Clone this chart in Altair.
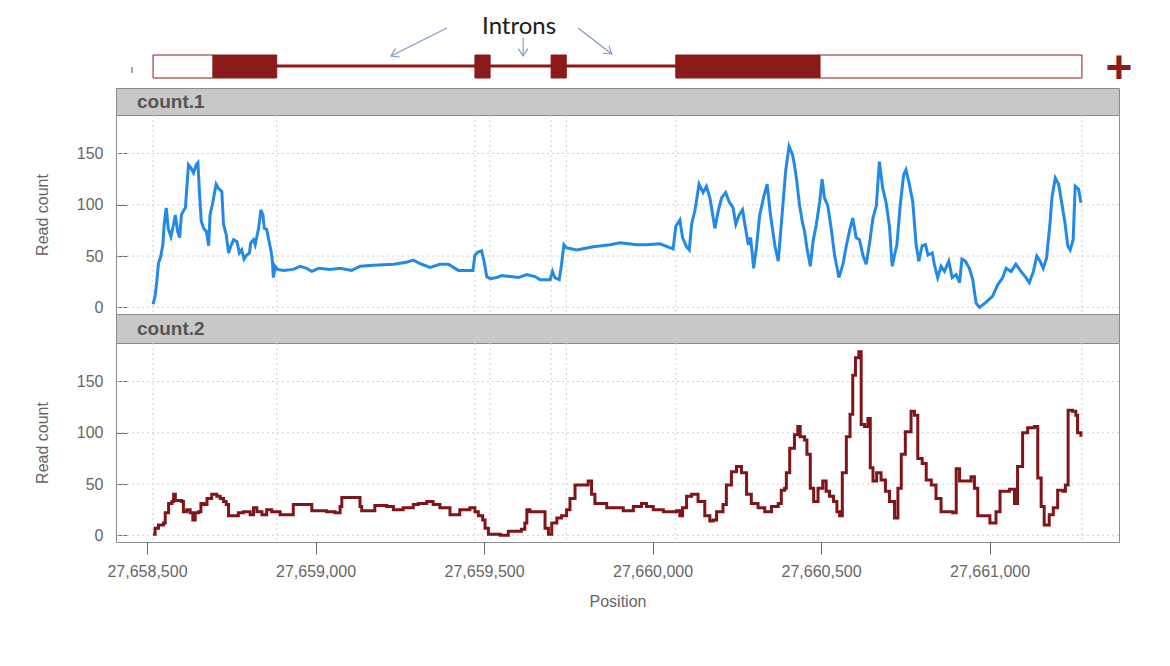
import math
import altair as alt
import pandas as pd


# gene model, bp
exon_start = [27658518, 27659473, 27659699, 27660069]
exon_end = [27658885, 27659518, 27659744, 27661274]
cds_start = 27658696
cds_end = 27660497

# read coverage, count.1
pos1 = [
    27658518, 27658524, 27658529, 27658534, 27658541, 27658547, 27658551, 27658557, 27658563, 27658571,
    27658579, 27658584, 27658591, 27658597, 27658602, 27658608, 27658614, 27658618, 27658623, 27658630,
    27658638, 27658646, 27658651, 27658656, 27658661, 27658668, 27658676, 27658683, 27658687, 27658695,
    27658705, 27658712, 27658722, 27658727, 27658735, 27658742, 27658749, 27658757, 27658767, 27658774,
    27658781, 27658788, 27658796, 27658804, 27658808, 27658816, 27658821, 27658831, 27658838, 27658844,
    27658848, 27658855, 27658863, 27658868, 27658872, 27658875, 27658880, 27658887, 27658905, 27658934,
    27658954, 27658974, 27658989, 27659009, 27659043, 27659073, 27659107, 27659132, 27659172, 27659231,
    27659270, 27659290, 27659315, 27659340, 27659369, 27659394, 27659424, 27659458,
    27659467, 27659473, 27659483, 27659493, 27659500, 27659508, 27659518, 27659538, 27659552, 27659577,
    27659602, 27659627, 27659651, 27659666, 27659696, 27659703, 27659710, 27659723, 27659730, 27659737,
    27659745, 27659775, 27659824, 27659874, 27659903, 27659953, 27659982, 27660022, 27660061, 27660069,
    27660081, 27660089, 27660101, 27660109, 27660116, 27660126, 27660138, 27660150, 27660160, 27660170,
    27660185, 27660195, 27660205, 27660217, 27660227, 27660239, 27660247, 27660257, 27660267, 27660274,
    27660284, 27660291, 27660300, 27660308, 27660318, 27660330, 27660340, 27660350, 27660363, 27660373,
    27660382, 27660395, 27660405,
    27660415, 27660421, 27660428, 27660436, 27660444, 27660451, 27660458, 27660468, 27660476, 27660486,
    27660496, 27660503, 27660510, 27660520, 27660530, 27660540, 27660553, 27660565, 27660575, 27660586,
    27660594, 27660604, 27660614, 27660624, 27660634, 27660644, 27660654, 27660664, 27660673, 27660683,
    27660693, 27660703, 27660711, 27660718, 27660725, 27660735, 27660745, 27660752, 27660762, 27660772,
    27660782, 27660790, 27660800, 27660810, 27660817, 27660830, 27660836, 27660846, 27660856, 27660866,
    27660879, 27660889, 27660901, 27660911, 27660918, 27660928, 27660940, 27660950, 27660960, 27660970,
    27660990, 27661009, 27661024, 27661039, 27661049, 27661064, 27661078, 27661093, 27661108, 27661118,
    27661130, 27661140, 27661150, 27661159, 27661169, 27661179, 27661185, 27661195, 27661205, 27661215,
    27661223, 27661232, 27661239, 27661248, 27661254, 27661264, 27661271,
]
cnt1 = [
    3, 11, 25, 43, 50, 61, 81, 97, 77, 69,
    81, 90, 74, 68, 90, 94, 97, 116, 139, 136,
    131, 139, 141, 110, 84, 77, 74, 60, 90, 102,
    120, 116, 113, 81, 71, 53, 60, 66, 64, 53,
    56, 47, 51, 53, 63, 66, 61, 77, 95, 90,
    77, 76, 63, 55, 45, 29, 40, 37, 36, 37,
    40, 38, 35, 38, 37, 38, 36, 40, 41, 42,
    44, 46, 42, 39, 42, 42, 36, 36,
    36, 51, 54, 55, 45, 30, 28, 29, 31, 30,
    29, 32, 30, 27, 27, 35, 29, 27, 42, 61,
    58, 56, 59, 61, 63, 61, 61, 62, 57, 79,
    85, 68, 59, 56, 81, 95, 120, 112, 118, 107,
    77, 94, 107, 112, 103, 97, 81, 90, 95, 81,
    61, 68, 38, 58, 90, 108, 120, 90, 60, 45,
    81, 133, 157,
    149, 139, 123, 100, 84, 74, 58, 40, 64, 81,
    103, 125, 107, 99, 77, 51, 29, 42, 60, 77,
    87, 68, 66, 51, 42, 63, 87, 99, 142, 116,
    102, 79, 40, 51, 61, 100, 129, 134, 120, 103,
    61, 45, 60, 61, 51, 53, 42, 29, 40, 35,
    45, 29, 32, 24, 47, 45, 38, 27, 4, 0,
    5, 11, 22, 29, 38, 35, 42, 35, 29, 24,
    35, 50, 45, 38, 48, 81, 107, 126, 120, 100,
    84, 60, 56, 66, 118, 115, 102,
]

# read coverage, count.2
pos2 = [
    27658518, 27658524, 27658534, 27658549, 27658554, 27658564, 27658574, 27658579, 27658584, 27658603,
    27658608, 27658618, 27658628, 27658636, 27658643, 27658653, 27658660, 27658668, 27658678, 27658692,
    27658707, 27658717, 27658727, 27658735, 27658742, 27658757, 27658771, 27658786, 27658806, 27658816,
    27658826, 27658841, 27658855, 27658870, 27658885, 27658895, 27658930, 27658934, 27658984, 27658989,
    27659033, 27659058, 27659073, 27659078, 27659117, 27659132, 27659137, 27659172, 27659176, 27659211,
    27659231, 27659260, 27659290, 27659305, 27659330, 27659349, 27659369, 27659399, 27659428, 27659458,
    27659473, 27659483, 27659496, 27659503, 27659513, 27659548, 27659572, 27659611, 27659621, 27659627,
    27659636, 27659676, 27659681, 27659691, 27659701, 27659716, 27659730, 27659745, 27659755, 27659770,
    27659795, 27659809, 27659819, 27659829, 27659864, 27659913, 27659943, 27659967, 27659982, 27660002,
    27660032, 27660071, 27660081, 27660089, 27660101, 27660116, 27660135, 27660155, 27660170, 27660180,
    27660190, 27660209, 27660219, 27660234, 27660249, 27660264, 27660279, 27660293, 27660313, 27660333,
    27660353, 27660373, 27660382, 27660392,
    27660397, 27660407, 27660421, 27660431, 27660438, 27660451, 27660458, 27660468, 27660478, 27660491,
    27660505, 27660515, 27660525, 27660537, 27660547, 27660555, 27660563, 27660575, 27660586, 27660594,
    27660602, 27660612, 27660619, 27660629, 27660639, 27660646, 27660654, 27660665, 27660678, 27660691,
    27660703, 27660718, 27660728, 27660738, 27660750, 27660767, 27660777, 27660787, 27660800, 27660812,
    27660827, 27660841, 27660856, 27660876, 27660891, 27660901, 27660911, 27660935, 27660945, 27660955,
    27660965, 27660990, 27661001, 27661019, 27661031, 27661059, 27661074, 27661083, 27661098, 27661113,
    27661133, 27661143, 27661153, 27661162, 27661177, 27661189, 27661202, 27661217, 27661225, 27661233,
    27661246, 27661256, 27661261, 27661271,
]
cnt2 = [
    1, 7, 10, 12, 22, 31, 33, 40, 34, 33,
    23, 25, 22, 15, 22, 23, 31, 30, 36, 40,
    38, 36, 33, 30, 19, 19, 22, 23, 20, 27,
    23, 20, 25, 23, 23, 20, 20, 30, 30, 24,
    23, 22, 28, 37, 37, 28, 24, 24, 29, 28,
    25, 27, 30, 31, 33, 30, 27, 20, 25, 27,
    23, 19, 15, 7, 1, 0, 4, 6, 12, 25,
    23, 23, 7, 1, 12, 17, 19, 25, 36, 49,
    49, 53, 40, 31, 27, 24, 28, 31, 28, 25,
    23, 24, 19, 27, 38, 40, 33, 19, 14, 15,
    23, 30, 49, 62, 67, 61, 40, 31, 27, 23,
    28, 31, 44, 46,
    61, 85, 98, 106, 96, 93, 79, 46, 33, 46,
    53, 43, 38, 33, 23, 19, 61, 96, 118, 156,
    173, 179, 108, 106, 114, 66, 53, 61, 54, 43,
    33, 17, 46, 79, 101, 121, 117, 75, 70, 54,
    49, 36, 23, 23, 22, 65, 53, 53, 57, 46,
    19, 19, 12, 23, 43, 45, 31, 67, 100, 105,
    106, 56, 28, 10, 20, 27, 44, 43, 49, 122,
    121, 117, 100, 96,
]

x_ticks = [27658500, 27659000, 27659500, 27660000, 27660500, 27661000]
y_ticks = [0, 50, 100, 150]

# annotation "Introns" and its arrows (bp)
label_pos = 27659604
arrow_tail = [27659390, 27659616, 27659779]
arrow_tip = [27659224, 27659616, 27659879]


W = 1003
x_dom = [27658408, 27661384]
x_scale = alt.Scale(domain=x_dom, nice=False, zero=False)
y_scale = alt.Scale(domain=[-6.5, 187.5], nice=False, zero=False)

RED = '#8b1a1a'
BLUE = '#2389e6'
GRID = '#cfcfcf'
AXIS_GREY = '#666666'
ARROW = '#7d96c0'

# exon segments split into UTR / CDS parts
segs = []
for s, e in zip(exon_start, exon_end):
    if s < cds_start:
        segs.append((s, min(e, cds_start), 'utr'))
    cs, ce = max(s, cds_start), min(e, cds_end)
    if cs < ce:
        segs.append((cs, ce, 'cds'))
    if e > cds_end:
        segs.append((max(s, cds_end), e, 'utr'))
seg_df = pd.DataFrame(segs, columns=['start', 'end', 'kind'])

backbone_df = pd.DataFrame({'start': [exon_start[0]], 'end': [exon_end[-1]]})

ppb = W / (x_dom[1] - x_dom[0])
y_tail = [16, 26, 16]
y_tip = [44, 44, 42]
angles = []
for a, b, ya, yb in zip(arrow_tail, arrow_tip, y_tail, y_tip):
    angles.append(math.degrees(math.atan2(yb - ya, (b - a) * ppb)) % 360)
arrow_df = pd.DataFrame({'tail': arrow_tail, 'tip': arrow_tip,
                         'y_tail': y_tail, 'y_tip': y_tip, 'angle': angles})
label_df = pd.DataFrame({'x': [label_pos], 'label': ['Introns']})

TRACK_H = 76

backbone = alt.Chart(backbone_df).mark_rule(color=RED, strokeWidth=3).encode(
    x=alt.X('start:Q', scale=x_scale, axis=None),
    x2='end:Q',
    y=alt.value(54)
)
boxes = alt.Chart(seg_df).mark_rect(stroke=RED, strokeWidth=1).encode(
    x=alt.X('start:Q', scale=x_scale, axis=None),
    x2='end:Q',
    y=alt.value(43),
    y2=alt.value(66),
    color=alt.Color('kind:N', scale=alt.Scale(domain=['utr', 'cds'], range=['white', RED]), legend=None)
)
arrow_lines = alt.Chart(arrow_df).mark_rule(color=ARROW, strokeWidth=1.1).encode(
    x=alt.X('tail:Q', scale=x_scale, axis=None),
    x2='tip:Q',
    y=alt.Y('y_tail:Q', scale=None),
    y2='y_tip:Q'
)
arrow_heads = alt.Chart(arrow_df).mark_point(
    shape='M-1,-0.65L0,0L-1,0.65', filled=False, color=ARROW, strokeWidth=1.1, size=220, opacity=1
).encode(
    x=alt.X('tip:Q', scale=x_scale, axis=None),
    y=alt.Y('y_tip:Q', scale=None),
    angle=alt.Angle('angle:Q', scale=None)
)
label = alt.Chart(label_df).mark_text(
    font='Lato', fontSize=24, color='#1a1a1a', baseline='alphabetic', align='center'
).encode(
    x=alt.X('x:Q', scale=x_scale, axis=None),
    y=alt.value(22),
    text='label:N'
)
strand = alt.Chart(label_df).mark_text(
    text='+', fontSize=46, fontWeight='bold', color=RED, baseline='middle', align='center'
).encode(x=alt.value(W), y=alt.value(57))
left_tick = alt.Chart(label_df).mark_rule(color='#555555', strokeWidth=1).encode(
    x=alt.value(16), y=alt.value(55), y2=alt.value(61)
)

track = alt.layer(backbone, boxes, arrow_lines, arrow_heads, label, strand, left_tick).properties(
    width=W, height=TRACK_H, view=alt.ViewBackground(stroke='transparent')
)


def strip(text, h):
    return alt.Chart(pd.DataFrame({'label': [text]})).mark_text(
        align='left', baseline='middle', fontSize=19, fontWeight='bold', color='#555555'
    ).encode(
        x=alt.value(21), y=alt.value(h / 2 + 0.5), text='label:N'
    ).properties(width=W, height=h, view=alt.ViewBackground(fill='#c8c8c8', stroke='#8c8c8c'))


bounds_df = pd.DataFrame({'position': sorted(exon_start + exon_end)})
hgrid_df = pd.DataFrame({'count': y_ticks})

y_axis = alt.Axis(values=y_ticks, title='Read count', offset=-11, tickSize=11, domain=False,
                  grid=False, labelPadding=13, titlePadding=26, labelColor=AXIS_GREY,
                  tickColor=AXIS_GREY, titleColor=AXIS_GREY, labelFontSize=16, titleFontSize=16,
                  titleFontWeight='normal')
x_axis = alt.Axis(values=x_ticks, format=',d', title='Position', tickSize=12, labelPadding=9,
                  titlePadding=14, domain=False, grid=False, labelFlush=False,
                  labelColor=AXIS_GREY, tickColor=AXIS_GREY, titleColor=AXIS_GREY,
                  labelFontSize=16, titleFontSize=16, titleFontWeight='normal')


def panel(pos, cnt, color, interp, h, show_x):
    df = pd.DataFrame({'position': pos, 'count': cnt})
    xax = x_axis if show_x else None
    vgrid = alt.Chart(bounds_df).mark_rule(color=GRID, strokeDash=[2, 3], strokeWidth=1).encode(
        x=alt.X('position:Q', scale=x_scale, axis=xax)
    )
    hgrid = alt.Chart(hgrid_df).mark_rule(color=GRID, strokeDash=[2, 3], strokeWidth=1).encode(
        y=alt.Y('count:Q', scale=y_scale, axis=y_axis)
    )
    line = alt.Chart(df).mark_line(color=color, strokeWidth=3, interpolate=interp).encode(
        x=alt.X('position:Q', scale=x_scale, axis=xax),
        y=alt.Y('count:Q', scale=y_scale, axis=y_axis)
    )
    return alt.layer(vgrid, hgrid, line).properties(
        width=W, height=h, view=alt.ViewBackground(fill='white', stroke='#8c8c8c')
    )


chart = alt.vconcat(
    track,
    strip('count.1', 27),
    panel(pos1, cnt1, BLUE, 'linear', 199, False),
    strip('count.2', 29),
    panel(pos2, cnt2, '#7f1518', 'step-after', 199, True),
    spacing=0,
    bounds='flush'
).properties(
    padding={'left': 25, 'top': 3, 'right': 5, 'bottom': 5},
    background='white'
).configure(
    font='Liberation Sans'
)

chart.save("out.html", embed_options={"renderer": "svg", "actions": False})
